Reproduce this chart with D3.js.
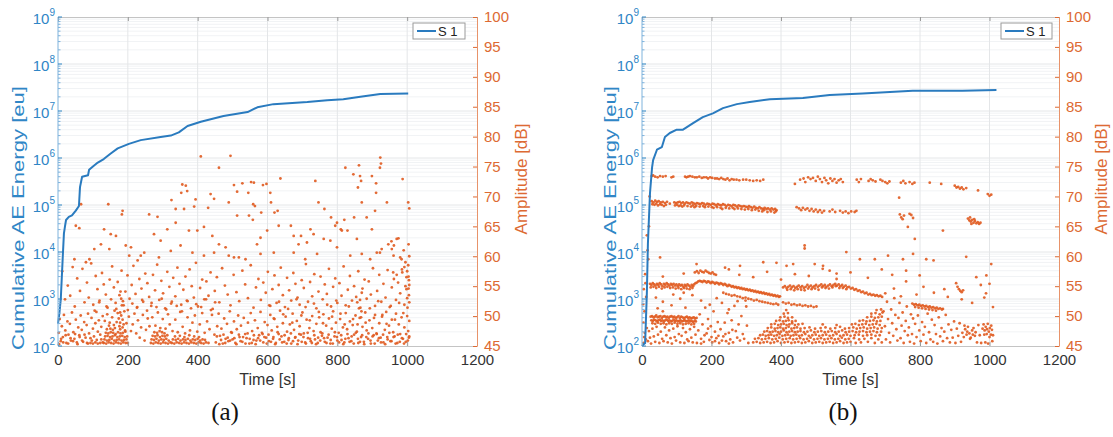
<!DOCTYPE html>
<html>
<head>
<meta charset="utf-8">
<script src="https://cdn.jsdelivr.net/npm/d3@7"></script>
<style>
body { margin: 0; background: #fff; }
text { font-family: "Liberation Sans", Arial, sans-serif; }
</style>
</head>
<body>
<div id="container"></div>
<script>
// ---------------- data ----------------
// time axis ticks and tick labels
var timeTicks = [0, 200, 400, 600, 800, 1000, 1200];
var energyTicks = [1e2, 1e3, 1e4, 1e5, 1e6, 1e7, 1e8, 1e9];
var ampTicks = [45, 50, 55, 60, 65, 70, 75, 80, 85, 90, 95, 100];
var seriesName = "S 1";

// (a) cumulative AE energy curve
var timeA = [0, 4, 8, 11, 14, 17, 20, 23, 31, 40, 51, 60, 63, 69, 86, 89, 100, 114, 131, 151, 171, 203, 237, 294, 323, 346, 371, 409, 474, 543, 571, 617, 714, 771, 817, 866, 923, 1003];
var energyA = [300, 500, 1000, 3000, 9000, 2.5e4, 3.5e4, 4.8e4, 5.6e4, 6e4, 7.6e4, 9.5e4, 2.4e5, 4e5, 4.3e5, 5.6e5, 6.6e5, 8e5, 9.5e5, 1.25e6, 1.6e6, 2e6, 2.4e6, 2.8e6, 3e6, 3.5e6, 4.8e6, 5.9e6, 7.8e6, 9.5e6, 1.2e7, 1.4e7, 1.55e7, 1.7e7, 1.78e7, 2e7, 2.3e7, 2.35e7];

// (b) cumulative AE energy curve
var timeB = [0, 5, 9, 14, 17, 23, 29, 32, 43, 57, 66, 80, 100, 118, 147, 175, 204, 233, 273, 310, 368, 463, 540, 635, 779, 922, 1020];
var energyB = [100, 110, 115, 1350, 1.5e4, 1.8e5, 6.3e5, 9e5, 1.5e6, 1.7e6, 2.8e6, 3.4e6, 4e6, 4e6, 5.5e6, 7.4e6, 8.9e6, 1.15e7, 1.4e7, 1.55e7, 1.78e7, 1.9e7, 2.2e7, 2.35e7, 2.7e7, 2.7e7, 2.8e7];

// (a) amplitude hits [time s, amplitude dB]
var ampA_high = [[461,74.8],[823,74.8],[862,75.2],[846,73.7],[865,73.4],[868,72.6],[859,71.5],[925,75.5],[922,74.8],[987,72.9],[899,73.4],[911,72.2],[911,70.6],[637,73],[737,72.6],[528,72.2],[553,72.4],[561,72.3],[587,71.9],[597,72.1],[504,71.9],[513,70.8],[545,70.6],[559,68.7],[564,68.4],[610,69],[608,70.6],[620,67.3],[629,67.6],[356,72],[366,71.8],[353,70.6],[370,70.9],[325,69.4],[337,67.9],[361,67.9],[394,69.5],[390,68.3],[437,70.4],[447,69.6],[430,68.1],[185,67.6],[183,67],[144,68.7],[261,67],[285,66.6],[66,68.7],[51,65.1],[61,64.7],[489,69],[513,66.8],[547,66.8],[558,66.1],[582,67.3],[667,65.1],[696,63.4],[732,63.7],[746,69],[763,67.9],[782,66.5],[799,65.6],[820,66.1],[810,64.5],[829,64.3],[848,66.5],[870,69],[884,66.5],[908,67.6],[899,64.5],[942,69],[1003,69],[1006,68],[494,76.8],[409,76.7],[923,76.5],
  [132,64.5],[151,63.7],[166,63.4],[194,61.8],[209,61.5],[237,60.1],[275,63.7],[294,62.6],[313,64.5],[337,65.6],[375,64.3],[399,64.3],[418,64.9],[442,63.4],[461,62],[480,61.5],[489,60.1],[504,59.8],[518,59.8],[537,59.5],[570,62],[580,63.1],[599,64.3],[632,65.1],[675,63.4],[689,62],[713,62.3],[723,64.5],[761,62.9],[780,62.6],[794,65.1],[813,64.3],[856,62.9],[913,60.6],[927,61.2],[946,62],[956,61.2],[961,60.1],[970,62.9],[984,59.5],[47,59.5],[80,59],[90,59.5],[104,61.2],[123,62],[147,61.2],[204,60.1],[228,59.3],[247,60.6],[289,59.8],[323,60.9],[351,61.8],[385,60.6],[418,60.1],[447,60.6],[580,60.4],[618,60.6],[675,60.6],[708,59.5],[742,60.4],[799,61.5],[837,60.1],[870,60.4],[894,59.5],[922,60.6],
  [955,62.5],[962,61.8],[975,63],[990,61],[995,59],[1000,57.5],[1003,58.5],[998,56.5],[1005,56],[985,57.8],[992,58.2],[1006,60],[1004,62],[980,59.8],[970,56.9],[960,57.3]];

var ampA_mid = [[12,57.5],[20,52.8],[28,55.1],[35,53.4],[42,58.2],[48,51.6],[55,56.3],[63,54.2],[70,57.9],[76,52.3],[83,55.6],[88,53.1],[95,58.8],[101,51.9],[108,56.7],[113,54.5],[119,52.6],[126,57.2],[131,55.3],[137,53.6],[142,51.4],[148,56.1],[155,58.3],[160,54.8],[165,52.2],[171,55.7],[176,53.5],[182,57.6],[188,51.8],[193,54.1],[199,56.8],[205,52.9],[211,55.2],[216,58.4],[222,53.7],[227,51.5],[233,56.2],[239,54.6],[244,52.4],[250,57.1],[256,55.5],[261,53.2],[267,51.7],[272,56.9],[278,54.3],[284,58.6],[290,52.7],[296,55.9],[301,53.8],[307,51.3],[313,57.4],[319,54.9],[324,52.1],[330,56.4],[336,53.3],[342,58.1],[348,55.4],[353,51.9],[359,54.4],[365,56.6],[371,52.5],[377,57.8],[383,55],[389,53.1],[395,58.9],[401,51.6],[407,54.7],[413,56.1],[419,52.8],[425,55.8],[431,53.4],[437,57.3],[443,51.2],[449,54.2],[455,56.5],[462,52.3],[470,58],[478,55.1],[486,53.6],[494,51.8],[503,56.9],[511,54],[519,52.5],[528,57.6],[536,55.3],[544,53],[552,58.5],[560,51.4],[567,54.8],[574,56.2],[581,52.7],[588,55.6],[595,53.9],[601,57.4],[608,51.7],[614,54.5],[620,56.8],[626,52.2],[632,55.2],[638,58.1],[644,53.5],[650,51.5],[656,56.4],[662,54.3],[668,52.6],[674,57.2],[680,55.4],[686,53.1],[692,51.9],[698,56],[704,54.7],[710,58.7],[716,52.4],[722,55.7],[728,53.3],[734,57],[740,51.3],[746,54.1],[752,56.6],[758,52.8],[764,55.3],[770,53.7],[776,57.9],[782,51.6],[788,54.9],[794,56.3],[800,52.2],[806,55.5],[812,53.4],[818,58.3],[824,51.8],[830,54.4],[836,56.7],[842,52.6],[848,55],[854,53.2],[860,57.5],[866,51.4],[872,54.6],[878,56.1],[884,52.9],[890,55.8],[896,53.6],[902,58],[908,51.7],[914,54.2],[920,56.9],[926,52.4],[932,55.4],[938,53.1],[944,57.7],[950,51.5],[956,54.8],[962,56.2],[968,52.7],[974,55.6],[980,53.8],[986,57.3],[992,51.9],[998,54.5],[1004,56.6],[1006,52.3],
  [179,54.1],[181,52.9],[183,51.8],[178,50.6],[862,51.3],[865,52.7],[868,49.8],[870,53.9],[858,48.6]];

var ampA_low = [[2,47.2],[5,49.5],[8,45.8],[11,48.3],[14,46.5],[17,50.2],[21,47.6],[24,45.5],[27,49.1],[30,46.9],[34,48.7],[37,45.9],[40,50.6],[44,47.3],[47,46.2],[51,49.4],[54,45.6],[58,48.1],[61,46.8],[65,50.1],[68,47.7],[72,45.7],[75,49],[79,46.4],[82,48.5],[86,50.4],[89,47.1],[93,46.3],[96,49.7],[100,47.9],[103,46.6],[107,48.8],[110,50.7],[114,47.4],[117,49.3],[121,46.9],[124,48.2],[128,50],
  [134,49.2],[141,50.3],[148,48.9],[155,49.8],[162,50.9],[168,49],[171,50.5],[174,49.6],[178,48.9],[181,50.1],[185,49.4],[190,50.8],[196,48.8],[203,49.9],[209,47.5],[214,48.6],[219,50.4],[224,47.1],[229,49.3],[234,46.4],[238,48.1],[243,50.2],[248,45.9],[252,47.7],[257,49.6],[262,48.3],[270,49.8],[279,48.4],[286,50.6],[293,48],[300,49.5],[308,47.9],[315,50.3],[320,48.6],[328,47.5],[336,49.4],[343,47.3],[350,50.7],[357,48.2],[364,47.1],[371,49.8],[378,47.6],[385,48.9],[392,50.1],[399,47.4],[406,48.6],[413,50.5],[420,47.2],[427,49.1],[434,47.8],[441,50.2],[448,46.9],
  [452,45.6],[456,48.3],[460,50.4],[464,46.7],[468,47.9],[472,45.4],[476,49.6],[480,46.2],[484,48.7],[488,45.8],[492,50.8],[496,47.3],[500,46.1],[504,49.1],[508,45.5],[512,47.8],[516,50.1],[520,46.5],[524,48.4],[528,45.7],[532,49.7],[536,47],[540,46.3],[544,48.9],[548,45.4],[552,50.5],[556,47.5],[560,46],[564,49.3],[568,45.9],[572,48],[576,46.8],[580,50.7],[584,47.2],[588,45.6],[592,49],[596,46.4],[600,48.5],[604,45.8],[608,50.2],[612,47.6],[616,46.2],[620,49.5],[624,45.5],[628,48.2],[632,47],[636,50.9],[640,46.6],[644,48.8],[648,45.7],[652,49.9],[656,47.4],[660,46],[664,48.6],[668,45.4],[672,50.4],[676,47.7],[680,46.5],[684,49.2],[688,45.9],[692,48.3],[696,46.9],[700,50.6],[704,47.1],[708,45.6],[712,49.4],[716,46.3],[720,48],[724,45.8],[728,50],[732,47.5],[736,46.1],[740,48.7],[744,45.5],[748,49.8],[752,47.3],[756,46.7],[760,50.3],[764,45.7],[768,48.4],[772,46.4],[776,49.6],[780,45.4],[784,47.9],[788,50.8],[792,46.6],[796,48.9],[800,45.9],[804,47.2],[808,49.5],[812,46],[816,48.1],[820,45.6],[824,50.5],[828,47.8],[832,46.3],[836,49.1],[840,45.8],[844,48.5],[848,46.9],[852,50.1],[856,47.4],[860,45.5],[864,49.7],[868,46.5],[872,48.2],[876,45.7],[880,50.6],[884,47.6],[888,46.2],[892,49.3],[896,45.4],[900,48],[904,46.8],[908,50.2],[912,47.1],[916,45.9],[920,48.8],[924,46.4],[928,49.9],[932,45.6],[936,47.7],[940,50.7],[944,46.1],[948,48.4],[952,45.8],[956,49.4],[960,47.3],[964,46.6],[968,50.4],[972,45.5],[976,48.6],[980,47],[984,49.8],[988,46.2],[992,48.1],[996,45.7],[1000,50],[1003,47.5],[1005,46.4],[1006,49.2]];

var ampA_extra = [[3,45.3],[9,46.2],[15,45.6],[22,46.8],[29,45.4],[36,46.3],[43,45.8],[49,47],[56,45.3],[62,46.5],[69,45.9],[76,46.9],[83,45.5],[455,46.6],[462,45.3],[467,46],[474,46.9],[479,45.5],[486,46.4],[493,45.9],[498,47.2],[505,46.3],[511,45.3],[518,46.9],[523,45.8],[530,46.5],[537,45.4],[543,47.1],[549,46.2],[555,45.5],[561,46.8],[566,45.3],[573,46.3],[579,45.9],[586,47],[591,46.5],[598,45.4],[603,46.9],[610,45.7],[617,46.5],[622,45.3],[629,47.3],[635,46.1],[642,45.6],[649,46.8],[655,45.4],[661,46.3],[667,47.1],[673,45.8],[679,46.4],[686,45.3],[691,47],[698,45.7],[703,46.5],[710,45.4],[715,47.2],[722,46.2],[727,45.5],[734,46.8],[739,45.3],[745,46.4],[751,45.9],[757,47.1],[762,46.3],[769,45.5],[775,46.9],[781,46],[787,45.4],[793,47.3],[799,46.5],[805,45.6],[811,46.8],[817,45.3],[823,46.2],[829,47],[835,45.7],[841,46.6],[847,45.4],[853,47.2],[859,46.2],[865,45.7],[871,46.8],[877,45.3],[883,46.5],[889,47.1],[895,45.9],[901,46.6],[907,45.4],[913,47],[919,46.3],[925,45.6],[931,46.9],[937,45.3],[943,46.5],[949,47.2],[955,45.8],[961,46.5],[967,45.4],[973,46.9],[979,45.7],[985,46.3],[991,45.4],[997,47],[1002,45.9],[1006,46.6],
  [605,51.8],[618,49.6],[633,52.4],[645,50.3],[659,51.2],[671,48.9],[683,52.8],[697,50.1],[709,51.5],[721,49.3],[733,52.1],[747,50.7],[759,48.8],[771,51.9],[785,49.9],[797,52.6],[809,50.4],[821,48.6],[833,51.6],[845,49.5],[857,52.3],[869,50.8],[881,48.9],[893,51.3],[905,49.7],[917,52.5],[929,50.2],[941,48.7],[953,51.7],[965,49.4],[977,52.2],[989,50.5],[1001,51.4],[1005,53.5],[1004,54.6],[1000,53],[1006,55.2],[995,55],
  [105,50.9],[118,52.3],[139,51.6],[152,52.8],[167,51.2],[186,52.5],[200,51],[213,52.1],[226,51.4],[241,52.7],[255,50.9],[268,52.2],[282,51.5],[297,52.9],[310,51.1],[326,52.4],[340,51.7],[355,50.8],[369,52.6],[381,51.3],[396,52],[410,51.5],[424,52.8],[438,51],[450,52.3]];

var ampA_dense = [[131,45.5],[138,45.4],[145,45.6],[152,45.5],[159,45.4],[166,45.6],[173,45.5],[180,45.4],[187,45.6],[194,45.5],[200,45.5],
  [133,46.1],[140,45.9],[147,46],[154,46.2],[161,45.9],[168,46],[175,46.1],[182,45.9],[189,46],[196,46.1],
  [135,46.6],[142,46.7],[149,46.5],[156,46.6],[163,46.8],[170,46.5],[177,46.6],[184,46.7],[191,46.5],[198,46.6],
  [137,47.2],[144,47.1],[151,47.3],[158,47.2],[165,47],[172,47.3],[179,47.1],[186,47.2],[193,47.4],
  [140,47.8],[150,47.9],[157,47.7],[163,48],[178,47.8],[185,48.1],[192,47.6],[146,48.4],[160,48.5],[176,48.3],[188,48.6],
  [266,45.5],[273,45.4],[280,45.6],[287,45.5],[294,45.4],[301,45.6],[308,45.5],[315,45.4],[322,45.6],
  [268,46.1],[275,46],[282,46.2],[289,45.9],[296,46.1],[303,46],[310,46.2],[317,45.9],
  [271,46.7],[278,46.6],[285,46.8],[292,46.5],[299,46.7],[306,46.6],[313,46.8],
  [276,47.3],[284,47.2],[291,47.5],[298,47.3],[305,47.1],
  [326,45.5],[333,45.4],[340,45.6],[347,45.5],[354,45.4],[361,45.6],[368,45.5],[375,45.4],[382,45.6],[389,45.5],[396,45.4],[403,45.6],[410,45.5],[417,45.4],[424,45.6],[431,45.5],
  [329,46.1],[337,46],[344,46.2],[351,45.9],[358,46.1],[365,46],[372,46.2],[379,45.9],[386,46.1],[393,46],[400,46.2],[407,45.9],[414,46.1],[421,46],
  [335,46.6],[349,46.7],[362,46.5],[376,46.8],[390,46.6],[404,46.5],
  [86,45.4],[93,45.5],[100,45.4],[107,45.6],[114,45.4],[121,45.5],[128,45.6],[97,45.9],[111,46],[124,46.1]];

// (b) amplitude hits [time s, amplitude dB]
var ampB_band73 = [[28,73.4],[32,73.5],[38,73.3],[45,73.2],[52,73.4],[60,73.3],[68,73.4],[85,73.2],[90,73.3],[124,73.3],[128,73.2],[133,73.3],[138,73.4],[145,73.3],[152,73.2],[158,73.2],[165,73.3],[172,73.1],[178,73.2],[185,73.2],[190,73],[196,73.2],[202,73.1],[210,73],[216,73],[222,72.9],[228,73.1],[234,72.9],[240,72.8],[246,73],[252,72.7],[258,72.9],[264,72.8],[272,72.8],[280,72.7],[291,72.8],[300,72.8],[310,72.7],[320,72.6],[330,72.7],[340,72.6],[349,72.8],
  [440,72.1],[455,72.8],[465,73],[470,72.4],[478,73.2],[485,72.9],[492,73.1],[500,72.6],[506,73.3],[512,72.9],[518,72.4],[525,73.1],[530,72.7],[536,72.2],[542,73],[548,72.6],[554,72.9],[560,72.3],[566,72.7],[572,72.9],[578,72.4],
  [618,72.8],[624,72.4],[630,72.9],[652,72.6],[658,72.9],[664,72.7],[672,72.5],[686,72.8],[692,72.6],[700,72.4],[706,72.2],[712,72.5],[745,72.3],[752,72.6],[758,72.2],[770,72.4],[778,72.1],[784,72.3],
  [828,72.3],[861,72.1],[900,71.8],[905,71.5],[910,71.6],[915,71.3],[920,71.5],[925,71.2],[933,71.4],[967,71],[995,70.4],[1000,70.1],[1005,70.3]];

var ampB_band69 = [[28,69.2],[33,69],[38,69.3],[43,69.1],[48,69.2],[54,69],[60,69.1],[66,68.9],[72,69.1],[80,68.8],[93,69],[98,68.9],[103,69],[108,69.1],[113,68.9],[118,69],[123,68.8],[128,69],[133,68.9],[138,68.8],[143,69],[148,68.9],[153,68.7],[158,68.9],[163,68.8],[168,68.7],[173,68.9],[178,68.8],[183,68.6],[188,68.8],[193,68.7],[198,68.6],[203,68.8],[208,68.7],[213,68.5],[218,68.7],[223,68.6],[228,68.5],[233,68.7],[238,68.6],[243,68.4],[248,68.6],[253,68.5],[258,68.4],[263,68.6],[268,68.5],[273,68.3],[278,68.5],[283,68.4],[288,68.3],[293,68.4],[298,68.3],[303,68.2],[308,68.4],[313,68.2],[318,68.1],[323,68.3],[328,68.1],[333,68],[338,68.2],[343,68],[348,67.9],[353,68.1],[358,67.9],[363,68],[368,67.8],[373,68],[378,67.8],[383,67.9],[387,67.7],
  [30,68.7],[36,68.6],[41,68.8],[46,68.5],[52,68.7],[57,68.6],[63,68.4],[69,68.6],[95,68.5],[101,68.6],[106,68.4],[111,68.5],[116,68.3],[121,68.5],[131,68.4],[141,68.3],[146,68.5],[151,68.2],[156,68.4],[166,68.3],[176,68.4],[181,68.2],[191,68.3],[201,68.2],[206,68.1],[216,68.2],[226,68.1],[231,67.9],[241,68.1],[251,68],[261,68.1],[266,67.9],[276,68],[286,67.9],[296,67.8],[306,67.9],[316,67.7],[326,67.8],[336,67.6],[346,67.5],[351,67.7],[361,67.4],[371,67.5],[381,67.3],[385,67.5],
  [445,68.2],[452,68],[458,67.7],[463,68.1],[470,67.8],[476,68],[482,67.6],[488,67.9],[494,67.5],[500,67.8],[506,67.4],[512,67.7],[518,67.3],[524,67.6],[540,67.5],[548,67.8],[556,67.4],[570,67.6],[578,67.3],[586,67.5],[594,67.2],[602,67.5],[612,67.4],[617,67.6],
  [742,67],[746,66.5],[750,66.2],[754,66.8],[770,67.1],[775,66.9],[780,66.4],[740,69.8],[765,64.9],[785,62.9],[866,64.3],[933,59.9],[468,61.8],[468,61.3],[588,60.7],
  [938,66.3],[942,66],[946,65.8],[950,66.1],[954,65.6],[958,65.9],[962,65.5],[966,65.7],[970,65.4],[974,65.6],[948,65.4],[956,66.2],[944,66.5],
  [52,59.8],[157,58.7],[239,58.1],[282,58.4],[349,59],[387,58.9],[416,58.4],[435,58.7],[497,58.7],[521,58.4],[540,57.6],[560,57.1],[627,59.5],[670,59.5],[708,60.1],[751,59.5],[780,60.4],[818,59.5],[839,59.3],[1005,58.7],[991,56.8],[799,56.8],[14,63.5],[16,61],[18,59.5],[20,65],[22,70]];

var ampB_band55 = [[23,55.4],[27,55.2],[31,55.5],[35,55.3],[39,55.1],[43,55.4],[47,55.2],[51,55.5],[55,55.3],[59,55],[63,55.4],[67,55.2],[71,55.5],[75,55.3],[79,55.1],[83,55.4],[87,55.2],[91,55.4],[95,55.1],[99,55.3],[103,55],[107,55.3],[111,55.1],[115,55.2],[119,54.9],[123,55.2],[127,55],[131,55.3],[135,55.1],[139,54.9],[143,55.2],[147,55],
  [25,54.8],[33,54.9],[41,54.7],[49,54.9],[57,54.6],[65,54.8],[73,54.9],[81,54.7],[89,54.8],[97,54.6],[105,54.7],[113,54.5],[121,54.7],[129,54.6],[137,54.5],[145,54.7],
  [150,55.3],[154,55.5],[158,55.6],[162,55.8],[166,55.9],[170,55.8],[174,55.7],[178,55.9],[182,55.8],[186,55.6],[190,55.8],[194,55.7],[198,55.5],[202,55.7],[206,55.6],[210,55.4],[214,55.6],[218,55.5],[222,55.3],[226,55.5],[230,55.4],[234,55.2],[238,55.4],[242,55.2],[246,55],[250,55.2],[254,55.1],[258,54.9],[262,55],[266,54.8],[270,54.9],[274,54.7],[278,54.8],[282,54.6],[286,54.7],[290,54.5],[294,54.6],[298,54.4],[302,54.5],[306,54.3],[310,54.4],[314,54.2],[318,54.3],[322,54.1],[326,54.2],[330,54],[334,54.1],[338,53.9],[342,54],[346,53.8],[350,53.9],[354,53.7],[358,53.8],[362,53.6],[366,53.7],[370,53.5],[374,53.6],[378,53.4],[382,53.5],[386,53.3],[390,53.4],[394,53.2],[397,53.3],
  [152,57.3],[158,57.5],[163,57.2],[168,57.6],[173,57.4],[178,57.3],[183,57.6],[188,57.4],[193,57.2],[198,57.1],[203,57.3],[208,57],[213,56.9],
  [406,54.8],[411,55],[416,54.7],[421,54.9],[426,55.1],[431,54.8],[436,55],[441,54.7],[446,54.9],[451,55.1],[456,54.8],[461,55],[466,54.7],[471,54.9],[476,55.2],[481,54.9],[486,55.1],[491,54.8],[496,55],[501,55.2],[506,54.9],[511,55.1],[516,55.3],[521,55],[526,55.2],[531,54.9],[536,55.1],[541,55.3],[546,55],[551,55.2],[556,55.4],[561,55.1],[566,55.3],[571,55],[576,55.2],[581,54.9],[586,55.1],[591,54.8],[596,54.9],[601,54.6],[606,54.7],[611,54.4],[616,54.5],[621,54.2],[626,54.3],[631,54],[636,54.1],[641,53.8],[646,53.9],[651,53.6],[656,53.7],[661,53.5],[666,53.6],[671,53.4],[676,53.5],[681,53.3],[686,53.4],[691,53.2],
  [418,54.4],[428,54.5],[438,54.3],[448,54.5],[458,54.4],[468,54.3],[478,54.6],[488,54.5],[498,54.6],[508,54.4],[518,54.8],[528,54.7],[538,54.6],[548,54.8],[558,55],[568,54.7],[578,54.7],[588,54.5]];

var ampB_band52 = [[234,53.9],[242,53.7],[250,53.6],[258,53.4],[266,53.5],[274,53.3],[282,53.2],[290,53],[298,53.1],[306,52.9],[314,52.8],[322,52.6],[330,52.7],[338,52.5],[346,52.4],[354,52.3],[362,52.2],[370,52.1],[378,52],[386,52.1],[392,51.9],
  [406,52.3],[414,52.1],[422,52.2],[430,51.9],[438,52],[446,51.8],[454,51.9],[462,51.7],[470,51.8],[478,51.6],[486,51.7],[494,51.5],[502,51.6],
  [778,52.1],[783,51.9],[788,52],[793,51.8],[798,51.9],[803,51.7],[808,51.8],[813,51.6],[818,51.7],[823,51.5],[828,51.6],[833,51.4],[838,51.5],[843,51.3],[848,51.4],[853,51.2],[858,51.3],[863,51.1],[866,51.2],[786,51.5],[796,51.4],[806,51.3],[816,51.2],[826,51.1],[836,51],[846,50.9],
  [904,55.5],[908,54.9],[912,54.5],[916,54.2],[920,54],[924,54.3],[962,56.5],[975,55.2],[990,53.8]];

var ampB_band49 = [[25,49.9],[29,50],[33,49.8],[37,49.9],[41,50.1],[45,49.8],[49,49.9],[53,50],[57,49.7],[61,49.9],[65,50],[69,49.8],[73,49.9],[77,49.7],[81,49.9],[85,50],[89,49.8],[93,49.9],[97,49.7],[101,49.8],[105,50],[109,49.7],[113,49.9],[117,49.8],[121,49.6],[125,49.8],[129,49.9],[133,49.7],[137,49.8],[141,49.6],[145,49.7],[149,49.8],[153,49.6],[157,49.7],
  [27,49.3],[31,49.2],[35,49.4],[39,49.3],[43,49.1],[47,49.3],[51,49.4],[55,49.2],[59,49.3],[63,49.1],[67,49.3],[71,49.4],[75,49.2],[79,49.3],[83,49.1],[87,49.2],[91,49.4],[95,49.2],[99,49.3],[103,49.1],[107,49.2],[111,49.3],[115,49.1],[119,49.2],[123,49.3],[127,49.1],[131,49.2],[135,49.3],[139,49.1],[143,49.2],[147,49],[151,49.2],[155,49.1],
  [30,48.8],[38,48.7],[46,48.9],[54,48.7],[62,48.8],[70,48.6],[78,48.8],[86,48.7],[94,48.9],[102,48.7],[110,48.8],[118,48.6],[126,48.7],[134,48.8],[142,48.6],[150,48.7]];

var ampB_arch = [[320,45.6],[330,45.7],[340,45.5],[350,45.6],[360,45.7],[370,45.5],[380,45.6],[390,45.8],[400,45.5],[410,45.6],[420,45.7],[430,45.5],[440,45.6],[450,45.7],[460,45.5],[470,45.6],[480,45.8],[490,45.5],[500,45.6],[510,45.7],[520,45.5],[530,45.6],[540,45.7],[550,45.5],[560,45.6],[570,45.8],[580,45.5],[590,45.6],[600,45.7],[615,45.5],[630,45.6],[650,45.7],[670,45.5],[690,45.6],
  [325,46.2],[335,46.3],[345,46.1],[355,46.2],[365,46.3],[375,46.1],[385,46.2],[395,46.4],[405,46.1],[415,46.2],[425,46.3],[435,46.1],[445,46.2],[455,46.3],[465,46.1],[475,46.2],[485,46.4],[495,46.1],[505,46.2],[515,46.3],[525,46.1],[535,46.2],[545,46.3],[555,46.1],[565,46.2],[575,46.4],[585,46.1],[595,46.2],[610,46.3],[625,46.1],[640,46.2],[660,46.3],[680,46.1],
  [340,46.8],[348,46.9],[356,46.7],[364,46.8],[372,46.9],[380,46.7],[388,46.8],[396,47],[404,46.7],[412,46.8],[420,46.9],[428,46.7],[436,46.8],[444,46.9],[452,46.7],[460,46.8],[470,47],[480,46.7],[490,46.8],[500,46.9],[510,46.7],[520,46.8],[530,46.9],[540,46.7],[550,46.8],[560,47],[570,46.7],[580,46.8],[590,46.9],[600,46.7],[612,46.8],[624,46.9],[636,46.7],[648,46.8],[660,46.9],[672,46.7],[684,46.8],
  [352,47.4],[360,47.5],[368,47.3],[376,47.4],[384,47.5],[392,47.3],[400,47.4],[408,47.6],[416,47.3],[424,47.4],[432,47.5],[440,47.3],[448,47.4],[456,47.5],[466,47.3],[476,47.4],[486,47.6],[496,47.3],[506,47.4],[516,47.5],[526,47.3],[536,47.4],[546,47.5],[556,47.3],[566,47.4],[576,47.6],[586,47.3],[596,47.4],[606,47.5],[616,47.3],[626,47.4],[636,47.5],[646,47.3],[656,47.4],[666,47.5],[676,47.3],[688,47.4],
  [362,48],[372,48.1],[382,47.9],[390,48],[398,48.1],[406,47.9],[414,48],[422,48.2],[430,47.9],[438,48],[446,48.1],[456,47.9],[468,48],[482,48.1],[498,47.9],[514,48],[528,48.1],[542,47.9],[556,48],[570,48.2],[584,47.9],[596,48],[608,48.1],[618,47.9],[628,48],[638,48.1],[648,47.9],[658,48],[668,48.1],[678,47.9],[690,48],
  [372,48.6],[382,48.7],[392,48.5],[400,48.6],[408,48.7],[416,48.5],[424,48.6],[432,48.8],[440,48.5],[450,48.6],[462,48.7],[520,48.6],[560,48.5],[604,48.6],[614,48.7],[624,48.5],[634,48.6],[644,48.7],[654,48.5],[664,48.6],[674,48.7],[684,48.5],
  [386,49.2],[396,49.3],[406,49.1],[414,49.2],[422,49.3],[432,49.1],[442,49.2],[626,49.2],[636,49.3],[646,49.1],[656,49.2],[666,49.3],[676,49.1],[686,49.2],
  [398,49.8],[410,49.9],[420,49.7],[432,49.8],[648,49.8],[660,49.9],[670,49.7],[680,49.8],[690,49.9],
  [408,50.4],[420,50.5],[660,50.4],[672,50.5],[684,50.3],[692,50.6],[415,51],[675,51],[688,51.1]];

var ampB_scatter = [[5,45.5],[8,47.2],[11,46.1],[14,48],[17,45.8],[20,47.5],[23,46.4],[26,45.4],[30,47.9],[34,46.6],[38,45.7],[42,48.2],[46,46.9],[50,45.5],[54,47.4],[58,46.2],[62,45.8],[66,48.1],[70,46.8],[74,45.6],[78,47.6],[82,46.3],[86,45.4],[90,47.9],[94,46.5],[98,45.9],[102,48.3],[106,47],[110,45.6],[114,46.7],[118,48],[122,45.5],[126,47.3],[130,46.1],[134,45.8],[138,47.8],[142,46.4],[146,45.6],[150,48.2],[154,46.9],[158,45.5],[162,47.6],[166,50.3],[170,46.2],[174,48.6],[178,45.7],[182,51.4],[186,47.1],[190,49.5],[194,46],[198,48.3],[202,45.6],[206,50.8],[210,47.4],[214,46.3],[218,49],[222,45.5],[226,47.8],[230,52.2],[234,46.6],[238,48.9],[242,45.8],[246,50.5],[250,47.2],[254,46.1],[258,49.3],[262,45.6],[266,51.7],[270,47.5],[274,46.4],[278,48.6],[282,45.9],[286,50],[290,47],[294,46.2],[298,52.6],[302,48.4],[306,45.5],[200,46.5],[210,45.8],[220,46.7],[230,45.9],[240,47],[250,45.4],[190,47.9],[180,46.8],[170,45.4],[260,47.7],
  [40,53.1],[60,52.4],[85,51.8],[110,52.9],[125,51.4],[145,53.5],[170,52.6],[195,51.9],[215,53],[250,51.1],[275,52.5],[300,51.6],[120,53.9],[90,53.6],[60,50.8],[45,51.3],
  [695,50.8],[699,48.3],[702,46.1],[705,52.4],[708,49.5],[711,47.2],[714,45.6],[717,51.1],[720,48.8],[723,46.7],[726,53],[729,50.2],[732,47.8],[735,45.9],[738,49.7],[741,52.2],[744,46.3],[747,48.4],[750,50.6],[753,45.5],[756,47.5],[759,49.2],[762,51.6],[765,46.8],[768,48.1],[771,45.7],[774,50.3],[777,47],[780,49.6],[783,45.4],[786,48.7],[790,46.5],[794,50.1],[798,47.6],[802,45.8],[806,49],[810,46.9],[814,48.2],[818,45.5],[822,50.4],[826,47.3],[830,46.1],[834,49.4],[838,45.7],[842,48.5],[846,47],[850,45.4],[854,49.8],[858,46.6],[862,48],[866,45.8],[870,47.4],[874,50.2],[878,46.3],[882,48.6],[886,45.6],[890,47.7],[894,46.4],[898,49.1],[902,45.5],[906,47.9],[910,46.7],[914,48.8],[918,45.7],[922,47.2],[926,46.5],[930,47.8],[934,46.9],[938,48.2],[942,47.1],[946,46.4],[950,47.6],[954,48],[958,46.7],[928,48.4],[936,47.4],[944,46.2],[952,46.9],[960,47.3],[964,45.6],[968,48.5],[972,46.8],[976,45.5],[980,47.9],[983,48.6],[986,47.6],[989,48.2],[992,47],[995,48.7],[998,47.4],[1001,48],[1004,46.9],[1007,47.7],[1010,46.8],[985,46.9],[993,47.8],[1000,46.5],[1005,48.4],[988,45.6],[1008,45.8],[996,45.4],
  [700,53.8],[725,54.6],[745,53.3],[760,55.8],[790,53.6],[810,54.9],[840,53.9],[880,53.2],[920,52.8],[950,52.2],[985,53.1],[1000,55.4],[1010,51.5],[870,54.5],[760,57.6],[720,56.9],[690,57.8],[650,56.4],[600,57.3],[560,56.2],[520,57.9],[480,56.7],[440,57],[400,56.1],[360,57.4],[320,56.5],[280,56.9],[250,57.8],[120,57.1],[60,56.6],
  [3,52],[5,54.5],[7,50.8],[9,57],[4,48.9],[6,46.5],[10,55.5],[12,53.2]];

// ---------------- drawing ----------------
var blue = "#2f86c6", blueLine = "#2a7bbf", orange = "#dd6a33", dotColor = "#e05a1f";
var plotTop = 17, plotBottom = 346;

var svg = d3.select("#container").append("svg")
    .attr("width", 1113)
    .attr("height", 437);

var panels = [
    {left: 58, right: 477, time: timeA, energy: energyA,
     hits: ampA_high.concat(ampA_mid, ampA_low, ampA_extra, ampA_dense),
     legendX: 413, legendW: 52, yLabelX: 18, ampLabelX: 521, caption: "(a)", captionX: 225},
    {left: 642, right: 1059, time: timeB, energy: energyB,
     hits: ampB_band73.concat(ampB_band69, ampB_band55, ampB_band52, ampB_band49, ampB_arch, ampB_scatter),
     legendX: 1001, legendW: 51, yLabelX: 610, ampLabelX: 1101, caption: "(b)", captionX: 843}
];

panels.forEach(function (p) {
    var x = d3.scaleLinear().domain([0, 1200]).range([p.left, p.right]);
    var yE = d3.scaleLog().domain([1e2, 1e9]).range([plotBottom, plotTop]);
    var yA = d3.scaleLinear().domain([45, 100]).range([plotBottom, plotTop]);

    var g = svg.append("g");

    // minor log grid
    var minors = [];
    for (var d = 2; d < 9; d++) {
        for (var m = 2; m < 10; m++) minors.push(m * Math.pow(10, d));
    }
    g.append("g").selectAll("line").data(minors).join("line")
        .attr("x1", p.left).attr("x2", p.right)
        .attr("y1", function (v) { return yE(v); }).attr("y2", function (v) { return yE(v); })
        .attr("stroke", "#f1f3f5").attr("stroke-width", 1);

    // major grid
    g.append("g").selectAll("line").data(energyTicks.slice(1, -1)).join("line")
        .attr("x1", p.left).attr("x2", p.right)
        .attr("y1", function (v) { return yE(v); }).attr("y2", function (v) { return yE(v); })
        .attr("stroke", "#e4e6e8");
    g.append("g").selectAll("line").data(timeTicks.slice(1, -1)).join("line")
        .attr("x1", function (v) { return x(v); }).attr("x2", function (v) { return x(v); })
        .attr("y1", plotTop).attr("y2", plotBottom)
        .attr("stroke", "#e4e6e8");

    // amplitude hits
    g.append("g").selectAll("circle").data(p.hits).join("circle")
        .attr("cx", function (d) { return x(d[0]); })
        .attr("cy", function (d) { return yA(d[1]); })
        .attr("r", 1.4)
        .attr("fill", dotColor)
        .attr("fill-opacity", 0.9);

    // cumulative energy
    var pts = p.time.map(function (t, i) { return [t, p.energy[i]]; });
    g.append("path")
        .datum(pts)
        .attr("fill", "none")
        .attr("stroke", blueLine)
        .attr("stroke-width", 2)
        .attr("stroke-linejoin", "round")
        .attr("d", d3.line().x(function (d) { return x(d[0]); }).y(function (d) { return yE(d[1]); }));

    // bottom axis
    var xAxis = g.append("g").attr("transform", "translate(0," + plotBottom + ")")
        .call(d3.axisBottom(x).tickValues(timeTicks).tickFormat(d3.format("d"))
            .tickSizeInner(-4).tickSizeOuter(0).tickPadding(8));
    xAxis.select(".domain").attr("stroke", "#c4c4c4");
    xAxis.selectAll(".tick line").attr("stroke", "#9a9a9a");
    xAxis.selectAll("text").attr("fill", "#333").style("font-size", "15px")
        .style("font-family", "'Liberation Sans', Arial, sans-serif");

    // top axis (ticks only)
    var tAxis = g.append("g").attr("transform", "translate(0," + plotTop + ")")
        .call(d3.axisTop(x).tickValues(timeTicks).tickSizeInner(-4).tickSizeOuter(0).tickFormat(""));
    tAxis.select(".domain").attr("stroke", "#c4c4c4");
    tAxis.selectAll(".tick line").attr("stroke", "#9a9a9a");

    // left log axis
    g.append("line").attr("x1", p.left).attr("x2", p.left).attr("y1", plotTop).attr("y2", plotBottom)
        .attr("stroke", "#7fb3dc");
    g.append("g").selectAll("line").data(minors).join("line")
        .attr("x1", p.left).attr("x2", p.left + 2.5)
        .attr("y1", function (v) { return yE(v); }).attr("y2", function (v) { return yE(v); })
        .attr("stroke", "#7fb3dc");
    g.append("g").selectAll("line").data(energyTicks).join("line")
        .attr("x1", p.left).attr("x2", p.left + 4)
        .attr("y1", function (v) { return yE(v); }).attr("y2", function (v) { return yE(v); })
        .attr("stroke", blue);
    var lab = g.append("g").selectAll("text").data(energyTicks).join("text")
        .attr("x", p.left - 3)
        .attr("y", function (v) { return yE(v) + 7; })
        .attr("text-anchor", "end")
        .attr("fill", blue)
        .style("font-size", "15px");
    lab.append("tspan").text("10");
    lab.append("tspan").attr("dy", -8).style("font-size", "10px")
        .text(function (v) { return Math.round(Math.log10(v)); });

    // right amplitude axis
    var rAxis = g.append("g").attr("transform", "translate(" + p.right + ",0)")
        .call(d3.axisRight(yA).tickValues(ampTicks).tickSizeInner(-4).tickSizeOuter(0).tickPadding(7));
    rAxis.select(".domain").attr("stroke", "#e8936a");
    rAxis.selectAll(".tick line").attr("stroke", orange);
    rAxis.selectAll("text").attr("fill", orange).style("font-size", "15px")
        .style("font-family", "'Liberation Sans', Arial, sans-serif");

    // axis titles
    g.append("text")
        .attr("transform", "translate(" + p.yLabelX + ",218) rotate(-90)")
        .attr("text-anchor", "middle").attr("dy", "0.35em")
        .attr("textLength", 264).attr("lengthAdjust", "spacingAndGlyphs")
        .attr("fill", blue).style("font-size", "16px")
        .text("Cumulative AE Energy [eu]");
    g.append("text")
        .attr("transform", "translate(" + p.ampLabelX + ",179) rotate(-90)")
        .attr("text-anchor", "middle").attr("dy", "0.35em")
        .attr("textLength", 111).attr("lengthAdjust", "spacingAndGlyphs")
        .attr("fill", orange).style("font-size", "16px")
        .text("Amplitude [dB]");
    g.append("text")
        .attr("x", (p.left + p.right) / 2).attr("y", 385)
        .attr("text-anchor", "middle")
        .attr("fill", "#333").style("font-size", "16px")
        .text("Time [s]");

    // legend
    var lg = g.append("g").attr("transform", "translate(" + p.legendX + ",23)");
    lg.append("rect").attr("width", p.legendW).attr("height", 16)
        .attr("fill", "#fff").attr("stroke", "#9a9a9a");
    lg.append("line").attr("x1", 4).attr("x2", 23).attr("y1", 8).attr("y2", 8)
        .attr("stroke", blueLine).attr("stroke-width", 2);
    lg.append("text").attr("x", 25).attr("y", 13)
        .attr("fill", "#222").style("font-size", "13px")
        .text(seriesName);

    // panel caption
    svg.append("text")
        .attr("x", p.captionX).attr("y", 420)
        .attr("text-anchor", "middle")
        .style("font-family", "'Liberation Serif', 'Times New Roman', serif")
        .style("font-size", "25px")
        .attr("fill", "#111")
        .text(p.caption);
});
</script>
</body>
</html>
